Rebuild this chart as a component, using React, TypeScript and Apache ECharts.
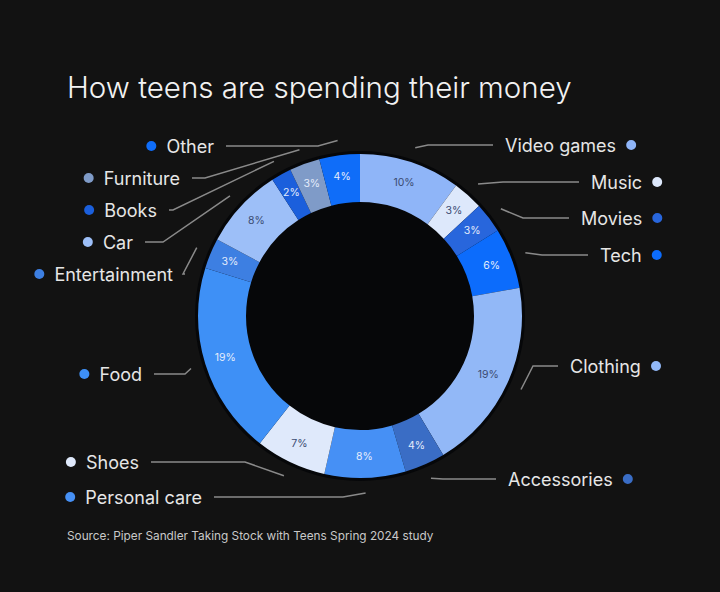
import React, { useEffect, useRef } from "react";
import * as echarts from "echarts";

// ---------- data ----------
const TITLE = "How teens are spending their money";
const SOURCE = "Source: Piper Sandler Taking Stock with Teens Spring 2024 study";
const CATEGORIES = [
  "Video games",
  "Music",
  "Movies",
  "Tech",
  "Clothing",
  "Accessories",
  "Personal care",
  "Shoes",
  "Food",
  "Entertainment",
  "Car",
  "Books",
  "Furniture",
  "Other",
];
const SHARES = [10, 3, 3, 6, 19, 4, 8, 7, 19, 3, 8, 2, 3, 4];

// ---------- styles ----------
const COLORS = [
  "#8fb5f8",
  "#dde8fb",
  "#2866dc",
  "#0c6cfc",
  "#92b8f7",
  "#3a6dc5",
  "#4690f5",
  "#dfe9fb",
  "#3e90f6",
  "#3d7fe2",
  "#9dbff8",
  "#1b5fdc",
  "#7f9bc8",
  "#0f6df9",
];

// ---------- layout (annotation placement) ----------
const CENTER = [360, 316];
const R_IN = 114;
const R_OUT = 162;
const LINE_R = 177;
// label row (y), text edge nearest the line (x), elbow of the leader line (x)
const LABEL_Y = [145, 182, 218, 255, 366, 479, 497, 462, 374, 274, 242, 210, 178, 146];
const LABEL_X = [505, 591, 581, 600, 570, 508, 202, 139, 142, 173, 133, 157, 180, 214];
const ELBOW_X = [428, 503, 523, 542, 533, 443, 343, 245, 185, 183, 163, 173, 205, 318];
const LINE_GAP = 12;

function brightness(hex: string) {
  const r = parseInt(hex.slice(1, 3), 16);
  const g = parseInt(hex.slice(3, 5), 16);
  const b = parseInt(hex.slice(5, 7), 16);
  return 0.299 * r + 0.587 * g + 0.114 * b;
}

export default function App() {
  const ref = useRef<HTMLDivElement>(null);

  useEffect(() => {
    document.body.style.margin = "0";
    const chart = echarts.init(ref.current as HTMLDivElement, null, { renderer: "svg" });

    const total = SHARES.reduce((a, b) => a + b, 0);
    const mids: number[] = [];
    let cum = 0;
    SHARES.forEach((v) => {
      mids.push(((cum + v / 2) / total) * Math.PI * 2);
      cum += v;
    });

    const rich: any = {
      t: { fontSize: 18, color: "#e6e6e6", fontFamily: "Inter", lineHeight: 22 },
    };
    COLORS.forEach((c, i) => {
      rich["d" + i] = { width: 10, height: 10, borderRadius: 5, backgroundColor: c };
    });

    const isRight = (i: number) => LABEL_X[i] > CENTER[0];

    const option: any = {
      animation: false,
      backgroundColor: "#121212",
      title: [
        {
          text: TITLE,
          left: 67,
          top: 72,
          padding: 0,
          textStyle: { color: "#f2f2f2", fontSize: 29.5, fontWeight: 300, fontFamily: "Inter" },
        },
        {
          text: SOURCE,
          left: 67,
          top: 530,
          padding: 0,
          textStyle: { color: "#c9c9c9", fontSize: 11.8, fontWeight: 400, fontFamily: "Inter" },
        },
      ],
      series: [
        {
          type: "pie",
          silent: true,
          radius: [0, R_OUT + 3],
          center: CENTER,
          data: [{ value: 1, name: "bg", itemStyle: { color: "#060709" } }],
          label: { show: false },
          labelLine: { show: false },
          z: 1,
        },
        {
          type: "pie",
          radius: [R_IN, R_OUT],
          center: CENTER,
          startAngle: 90,
          clockwise: true,
          avoidLabelOverlap: false,
          data: CATEGORIES.map((name, i) => ({
            name,
            value: SHARES[i],
            itemStyle: { color: COLORS[i] },
          })),
          label: {
            show: true,
            position: "outside",
            fontSize: 18,
            fontFamily: "Inter",
            color: "#e6e6e6",
            formatter: (p: any) =>
              isRight(p.dataIndex)
                ? `{t|${p.name}}  {d${p.dataIndex}|}`
                : `{d${p.dataIndex}|}  {t|${p.name}}`,
            rich,
          },
          labelLine: {
            show: true,
            length: 10,
            length2: 10,
            smooth: false,
            lineStyle: { color: "#8a8a8a", width: 1.5 },
          },
          labelLayout: (params: any) => {
            const i = params.dataIndex;
            const a = mids[i];
            const right = isRight(i);
            const y = LABEL_Y[i];
            const start = [CENTER[0] + LINE_R * Math.sin(a), CENTER[1] - LINE_R * Math.cos(a)];
            const end = [right ? LABEL_X[i] - LINE_GAP : LABEL_X[i] + LINE_GAP, y];
            return {
              x: LABEL_X[i],
              y,
              align: right ? "left" : "right",
              verticalAlign: "middle",
              labelLinePoints: [start, [ELBOW_X[i], y], end],
            };
          },
          z: 2,
        },
        {
          type: "pie",
          silent: true,
          radius: [R_IN, R_OUT],
          center: CENTER,
          startAngle: 90,
          clockwise: true,
          data: CATEGORIES.map((name, i) => ({
            name,
            value: SHARES[i],
            itemStyle: { color: "rgba(0,0,0,0)" },
            label: { color: brightness(COLORS[i]) > 165 ? "#3b4b72" : "#e4ecfb" },
          })),
          label: {
            show: true,
            position: "inside",
            formatter: "{c}%",
            fontSize: 10.5,
            fontFamily: "Inter",
            fontWeight: 400,
          },
          labelLine: { show: false },
          z: 3,
        },
      ],
    };

    chart.setOption(option);
    return () => chart.dispose();
  }, []);

  return <div ref={ref} style={{ width: 720, height: 592 }} />;
}
